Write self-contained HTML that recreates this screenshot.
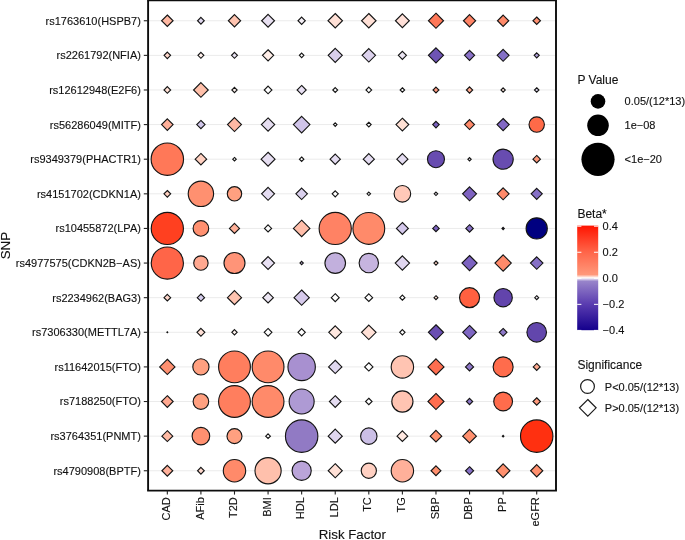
<!DOCTYPE html><html><head><meta charset="utf-8"><style>html,body{margin:0;padding:0;background:#fff;}svg{display:block;will-change:transform;}text{font-family:"Liberation Sans",sans-serif;stroke:#111;stroke-width:0.12px;}</style></head><body>
<svg width="685" height="540" viewBox="0 0 685 540">
<rect x="0" y="0" width="685" height="540" fill="#fff"/>
<line x1="148.1" y1="20.75" x2="556" y2="20.75" stroke="#ebebeb" stroke-width="1"/>
<line x1="148.1" y1="55.37" x2="556" y2="55.37" stroke="#ebebeb" stroke-width="1"/>
<line x1="148.1" y1="89.98" x2="556" y2="89.98" stroke="#ebebeb" stroke-width="1"/>
<line x1="148.1" y1="124.59" x2="556" y2="124.59" stroke="#ebebeb" stroke-width="1"/>
<line x1="148.1" y1="159.21" x2="556" y2="159.21" stroke="#ebebeb" stroke-width="1"/>
<line x1="148.1" y1="193.83" x2="556" y2="193.83" stroke="#ebebeb" stroke-width="1"/>
<line x1="148.1" y1="228.44" x2="556" y2="228.44" stroke="#ebebeb" stroke-width="1"/>
<line x1="148.1" y1="263.06" x2="556" y2="263.06" stroke="#ebebeb" stroke-width="1"/>
<line x1="148.1" y1="297.67" x2="556" y2="297.67" stroke="#ebebeb" stroke-width="1"/>
<line x1="148.1" y1="332.29" x2="556" y2="332.29" stroke="#ebebeb" stroke-width="1"/>
<line x1="148.1" y1="366.9" x2="556" y2="366.9" stroke="#ebebeb" stroke-width="1"/>
<line x1="148.1" y1="401.52" x2="556" y2="401.52" stroke="#ebebeb" stroke-width="1"/>
<line x1="148.1" y1="436.13" x2="556" y2="436.13" stroke="#ebebeb" stroke-width="1"/>
<line x1="148.1" y1="470.75" x2="556" y2="470.75" stroke="#ebebeb" stroke-width="1"/>
<path d="M167.33 15L173.08 20.75L167.33 26.5L161.58 20.75Z" fill="#FFB8A2" stroke="#141414" stroke-width="1.12"/>
<path d="M200.91 17.4L204.26 20.75L200.91 24.1L197.56 20.75Z" fill="#E0D8EF" stroke="#141414" stroke-width="1.12"/>
<path d="M234.49 14.6L240.64 20.75L234.49 26.9L228.34 20.75Z" fill="#FFC4B0" stroke="#141414" stroke-width="1.12"/>
<path d="M268.07 14.3L274.52 20.75L268.07 27.2L261.62 20.75Z" fill="#E8E0F1" stroke="#141414" stroke-width="1.12"/>
<path d="M301.65 17.1L305.3 20.75L301.65 24.4L298 20.75Z" fill="#F5F0F7" stroke="#141414" stroke-width="1.12"/>
<path d="M335.23 13.5L342.48 20.75L335.23 28L327.98 20.75Z" fill="#FFE0D6" stroke="#141414" stroke-width="1.12"/>
<path d="M368.81 13.5L376.06 20.75L368.81 28L361.56 20.75Z" fill="#FFE0D6" stroke="#141414" stroke-width="1.12"/>
<path d="M402.39 13.8L409.34 20.75L402.39 27.7L395.44 20.75Z" fill="#FFE0D8" stroke="#141414" stroke-width="1.12"/>
<path d="M435.97 13.2L443.52 20.75L435.97 28.3L428.42 20.75Z" fill="#FF7858" stroke="#141414" stroke-width="1.12"/>
<path d="M469.55 14.65L475.65 20.75L469.55 26.85L463.45 20.75Z" fill="#FF8466" stroke="#141414" stroke-width="1.12"/>
<path d="M503.13 15.1L508.78 20.75L503.13 26.4L497.48 20.75Z" fill="#FF8A6A" stroke="#141414" stroke-width="1.12"/>
<path d="M536.71 17L540.46 20.75L536.71 24.5L532.96 20.75Z" fill="#FF9070" stroke="#141414" stroke-width="1.12"/>
<path d="M167.33 52.12L170.58 55.37L167.33 58.62L164.08 55.37Z" fill="#FFD8CC" stroke="#141414" stroke-width="1.12"/>
<path d="M200.91 52.41L203.86 55.37L200.91 58.32L197.96 55.37Z" fill="#FFF0EC" stroke="#141414" stroke-width="1.12"/>
<path d="M234.49 52.41L237.44 55.37L234.49 58.32L231.54 55.37Z" fill="#E8E2F1" stroke="#141414" stroke-width="1.12"/>
<path d="M268.07 49.77L273.67 55.37L268.07 60.97L262.47 55.37Z" fill="#FFEEE8" stroke="#141414" stroke-width="1.12"/>
<path d="M301.65 53.12L303.9 55.37L301.65 57.62L299.4 55.37Z" fill="#FFFFFF" stroke="#141414" stroke-width="1.12"/>
<path d="M335.23 48.32L342.28 55.37L335.23 62.41L328.18 55.37Z" fill="#D8CEEB" stroke="#141414" stroke-width="1.12"/>
<path d="M368.81 48.66L375.51 55.37L368.81 62.07L362.11 55.37Z" fill="#DCD2ED" stroke="#141414" stroke-width="1.12"/>
<path d="M402.39 51.32L406.44 55.37L402.39 59.41L398.34 55.37Z" fill="#ECE6F3" stroke="#141414" stroke-width="1.12"/>
<path d="M435.97 47.82L443.52 55.37L435.97 62.91L428.42 55.37Z" fill="#6E54B4" stroke="#141414" stroke-width="1.12"/>
<path d="M469.55 50.32L474.6 55.37L469.55 60.41L464.5 55.37Z" fill="#8A72C8" stroke="#141414" stroke-width="1.12"/>
<path d="M503.13 49.41L509.08 55.37L503.13 61.32L497.18 55.37Z" fill="#8470C6" stroke="#141414" stroke-width="1.12"/>
<path d="M536.71 52.82L539.26 55.37L536.71 57.91L534.16 55.37Z" fill="#B0A0D8" stroke="#141414" stroke-width="1.12"/>
<path d="M167.33 86.63L170.68 89.98L167.33 93.33L163.98 89.98Z" fill="#FFE0D4" stroke="#141414" stroke-width="1.12"/>
<path d="M200.91 82.63L208.26 89.98L200.91 97.33L193.56 89.98Z" fill="#FFC0AA" stroke="#141414" stroke-width="1.12"/>
<path d="M234.49 87.33L237.14 89.98L234.49 92.63L231.84 89.98Z" fill="#FFF4F0" stroke="#141414" stroke-width="1.12"/>
<path d="M268.07 86.13L271.92 89.98L268.07 93.83L264.22 89.98Z" fill="#FFFFFF" stroke="#141414" stroke-width="1.12"/>
<path d="M301.65 85.43L306.2 89.98L301.65 94.53L297.1 89.98Z" fill="#E8E0F3" stroke="#141414" stroke-width="1.12"/>
<path d="M335.23 87.53L337.68 89.98L335.23 92.43L332.78 89.98Z" fill="#FFFFFF" stroke="#141414" stroke-width="1.12"/>
<path d="M368.81 87.13L371.66 89.98L368.81 92.83L365.96 89.98Z" fill="#FFFFFF" stroke="#141414" stroke-width="1.12"/>
<path d="M402.39 87.73L404.64 89.98L402.39 92.23L400.14 89.98Z" fill="#FFFFFF" stroke="#141414" stroke-width="1.12"/>
<path d="M435.97 87.03L438.92 89.98L435.97 92.93L433.02 89.98Z" fill="#FF9A80" stroke="#141414" stroke-width="1.12"/>
<path d="M469.55 86.83L472.7 89.98L469.55 93.13L466.4 89.98Z" fill="#FFAA90" stroke="#141414" stroke-width="1.12"/>
<path d="M503.13 87.83L505.28 89.98L503.13 92.13L500.98 89.98Z" fill="#FFE8E0" stroke="#141414" stroke-width="1.12"/>
<path d="M536.71 87.73L538.96 89.98L536.71 92.23L534.46 89.98Z" fill="#E0D8ED" stroke="#141414" stroke-width="1.12"/>
<path d="M167.33 118.84L173.08 124.59L167.33 130.34L161.58 124.59Z" fill="#FFB09A" stroke="#141414" stroke-width="1.12"/>
<path d="M200.91 120.44L205.06 124.59L200.91 128.75L196.76 124.59Z" fill="#D0C6E9" stroke="#141414" stroke-width="1.12"/>
<path d="M234.49 117.64L241.44 124.59L234.49 131.54L227.54 124.59Z" fill="#FFB8A4" stroke="#141414" stroke-width="1.12"/>
<path d="M268.07 117.94L274.72 124.59L268.07 131.25L261.42 124.59Z" fill="#E6DEF1" stroke="#141414" stroke-width="1.12"/>
<path d="M301.65 116.34L309.9 124.59L301.65 132.84L293.4 124.59Z" fill="#D0C4E9" stroke="#141414" stroke-width="1.12"/>
<path d="M335.23 122.84L336.98 124.59L335.23 126.34L333.48 124.59Z" fill="#FFFFFF" stroke="#141414" stroke-width="1.12"/>
<path d="M368.81 122.25L371.16 124.59L368.81 126.94L366.46 124.59Z" fill="#FFFFFF" stroke="#141414" stroke-width="1.12"/>
<path d="M402.39 118.19L408.79 124.59L402.39 131L395.99 124.59Z" fill="#FFE0D4" stroke="#141414" stroke-width="1.12"/>
<path d="M435.97 121.34L439.22 124.59L435.97 127.84L432.72 124.59Z" fill="#7A62BE" stroke="#141414" stroke-width="1.12"/>
<path d="M469.55 119.64L474.5 124.59L469.55 129.54L464.6 124.59Z" fill="#FF8A6A" stroke="#141414" stroke-width="1.12"/>
<path d="M503.13 118.5L509.23 124.59L503.13 130.69L497.03 124.59Z" fill="#8268C4" stroke="#141414" stroke-width="1.12"/>
<circle cx="536.71" cy="124.59" r="7.7" fill="#FF6A48" stroke="#141414" stroke-width="1.12"/>
<circle cx="167.33" cy="159.21" r="16.2" fill="#FF7858" stroke="#141414" stroke-width="1.12"/>
<path d="M200.91 153.46L206.66 159.21L200.91 164.96L195.16 159.21Z" fill="#FFD0C0" stroke="#141414" stroke-width="1.12"/>
<path d="M234.49 157.46L236.24 159.21L234.49 160.96L232.74 159.21Z" fill="#FFFFFF" stroke="#141414" stroke-width="1.12"/>
<path d="M268.07 152.26L275.02 159.21L268.07 166.16L261.12 159.21Z" fill="#E6DEF1" stroke="#141414" stroke-width="1.12"/>
<path d="M301.65 157.01L303.85 159.21L301.65 161.41L299.45 159.21Z" fill="#FFFFFF" stroke="#141414" stroke-width="1.12"/>
<path d="M335.23 154.06L340.38 159.21L335.23 164.36L330.08 159.21Z" fill="#E4DCF1" stroke="#141414" stroke-width="1.12"/>
<path d="M368.81 153.66L374.36 159.21L368.81 164.76L363.26 159.21Z" fill="#E4DCF1" stroke="#141414" stroke-width="1.12"/>
<path d="M402.39 153.66L407.94 159.21L402.39 164.76L396.84 159.21Z" fill="#E4DCF1" stroke="#141414" stroke-width="1.12"/>
<circle cx="435.97" cy="159.21" r="8.5" fill="#684CB0" stroke="#141414" stroke-width="1.12"/>
<path d="M469.55 157.56L471.2 159.21L469.55 160.86L467.9 159.21Z" fill="#F4EEF7" stroke="#141414" stroke-width="1.12"/>
<circle cx="503.13" cy="159.21" r="10.1" fill="#684CB0" stroke="#141414" stroke-width="1.12"/>
<path d="M536.71 155.46L540.46 159.21L536.71 162.96L532.96 159.21Z" fill="#FF9A7C" stroke="#141414" stroke-width="1.12"/>
<path d="M167.33 190.48L170.68 193.83L167.33 197.18L163.98 193.83Z" fill="#FFD0C0" stroke="#141414" stroke-width="1.12"/>
<circle cx="200.91" cy="193.83" r="12.7" fill="#FF9070" stroke="#141414" stroke-width="1.12"/>
<circle cx="234.49" cy="193.83" r="7.2" fill="#FFA080" stroke="#141414" stroke-width="1.12"/>
<path d="M268.07 187.38L274.52 193.83L268.07 200.28L261.62 193.83Z" fill="#E4DCF1" stroke="#141414" stroke-width="1.12"/>
<path d="M301.65 188.08L307.4 193.83L301.65 199.58L295.9 193.83Z" fill="#DAD0ED" stroke="#141414" stroke-width="1.12"/>
<path d="M335.23 190.78L338.28 193.83L335.23 196.88L332.18 193.83Z" fill="#FFFFFF" stroke="#141414" stroke-width="1.12"/>
<path d="M368.81 192.08L370.56 193.83L368.81 195.58L367.06 193.83Z" fill="#FFFFFF" stroke="#141414" stroke-width="1.12"/>
<circle cx="402.39" cy="193.83" r="8.3" fill="#FFC8B8" stroke="#141414" stroke-width="1.12"/>
<path d="M435.97 192.08L437.72 193.83L435.97 195.58L434.22 193.83Z" fill="#F0EAF5" stroke="#141414" stroke-width="1.12"/>
<path d="M469.55 186.88L476.5 193.83L469.55 200.78L462.6 193.83Z" fill="#7E62C0" stroke="#141414" stroke-width="1.12"/>
<path d="M503.13 187.88L509.08 193.83L503.13 199.78L497.18 193.83Z" fill="#FF8A6A" stroke="#141414" stroke-width="1.12"/>
<path d="M536.71 188.28L542.26 193.83L536.71 199.38L531.16 193.83Z" fill="#8670C6" stroke="#141414" stroke-width="1.12"/>
<circle cx="167.33" cy="228.44" r="16.1" fill="#FF4020" stroke="#141414" stroke-width="1.12"/>
<circle cx="200.91" cy="228.44" r="7.8" fill="#FF9070" stroke="#141414" stroke-width="1.12"/>
<path d="M234.49 223.39L239.54 228.44L234.49 233.49L229.44 228.44Z" fill="#FFB098" stroke="#141414" stroke-width="1.12"/>
<path d="M268.07 224.89L271.62 228.44L268.07 231.99L264.52 228.44Z" fill="#FFFFFF" stroke="#141414" stroke-width="1.12"/>
<path d="M301.65 220.19L309.9 228.44L301.65 236.69L293.4 228.44Z" fill="#FFBEAA" stroke="#141414" stroke-width="1.12"/>
<circle cx="335.23" cy="228.44" r="16.1" fill="#FF8264" stroke="#141414" stroke-width="1.12"/>
<circle cx="368.81" cy="228.44" r="15.9" fill="#FF8A6A" stroke="#141414" stroke-width="1.12"/>
<path d="M402.39 222.49L408.34 228.44L402.39 234.39L396.44 228.44Z" fill="#D4C8EB" stroke="#141414" stroke-width="1.12"/>
<path d="M435.97 225.19L439.22 228.44L435.97 231.69L432.72 228.44Z" fill="#7A62BE" stroke="#141414" stroke-width="1.12"/>
<path d="M469.55 224.69L473.3 228.44L469.55 232.19L465.8 228.44Z" fill="#8670C6" stroke="#141414" stroke-width="1.12"/>
<path d="M503.13 227.29L504.28 228.44L503.13 229.59L501.98 228.44Z" fill="#8670C6" stroke="#141414" stroke-width="1.12"/>
<circle cx="536.71" cy="228.44" r="10.6" fill="#000080" stroke="#141414" stroke-width="1.12"/>
<circle cx="167.33" cy="263.06" r="16.1" fill="#FF6548" stroke="#141414" stroke-width="1.12"/>
<circle cx="200.91" cy="263.06" r="7.2" fill="#FFA890" stroke="#141414" stroke-width="1.12"/>
<circle cx="234.49" cy="263.06" r="10.5" fill="#FF9478" stroke="#141414" stroke-width="1.12"/>
<path d="M268.07 256.61L274.52 263.06L268.07 269.5L261.62 263.06Z" fill="#E8E0F3" stroke="#141414" stroke-width="1.12"/>
<path d="M301.65 261.41L303.3 263.06L301.65 264.7L300 263.06Z" fill="#C2B0DD" stroke="#141414" stroke-width="1.12"/>
<circle cx="335.23" cy="263.06" r="10.3" fill="#C2B0DD" stroke="#141414" stroke-width="1.12"/>
<circle cx="368.81" cy="263.06" r="9.7" fill="#C6B4DF" stroke="#141414" stroke-width="1.12"/>
<path d="M402.39 255.91L409.54 263.06L402.39 270.2L395.24 263.06Z" fill="#E0D6EF" stroke="#141414" stroke-width="1.12"/>
<path d="M435.97 261L438.02 263.06L435.97 265.11L433.92 263.06Z" fill="#FFD0C0" stroke="#141414" stroke-width="1.12"/>
<path d="M469.55 255.5L477.1 263.06L469.55 270.61L462 263.06Z" fill="#7C62C0" stroke="#141414" stroke-width="1.12"/>
<path d="M503.13 254.91L511.28 263.06L503.13 271.2L494.98 263.06Z" fill="#FF8A6A" stroke="#141414" stroke-width="1.12"/>
<path d="M536.71 256.81L542.96 263.06L536.71 269.31L530.46 263.06Z" fill="#8670C6" stroke="#141414" stroke-width="1.12"/>
<path d="M167.33 294.32L170.68 297.67L167.33 301.02L163.98 297.67Z" fill="#FFD8CC" stroke="#141414" stroke-width="1.12"/>
<path d="M200.91 294.02L204.56 297.67L200.91 301.32L197.26 297.67Z" fill="#D4CCEC" stroke="#141414" stroke-width="1.12"/>
<path d="M234.49 290.62L241.54 297.67L234.49 304.72L227.44 297.67Z" fill="#FFC4B0" stroke="#141414" stroke-width="1.12"/>
<path d="M268.07 292.37L273.37 297.67L268.07 302.97L262.77 297.67Z" fill="#ECE6F3" stroke="#141414" stroke-width="1.12"/>
<path d="M301.65 290.02L309.3 297.67L301.65 305.32L294 297.67Z" fill="#D6CAEB" stroke="#141414" stroke-width="1.12"/>
<path d="M335.23 293.72L339.18 297.67L335.23 301.62L331.28 297.67Z" fill="#FFFFFF" stroke="#141414" stroke-width="1.12"/>
<path d="M368.81 293.82L372.66 297.67L368.81 301.52L364.96 297.67Z" fill="#FFFFFF" stroke="#141414" stroke-width="1.12"/>
<path d="M402.39 295.12L404.94 297.67L402.39 300.22L399.84 297.67Z" fill="#FFFFFF" stroke="#141414" stroke-width="1.12"/>
<path d="M435.97 295.72L437.92 297.67L435.97 299.62L434.02 297.67Z" fill="#FFE0D6" stroke="#141414" stroke-width="1.12"/>
<circle cx="469.55" cy="297.67" r="10" fill="#FF6040" stroke="#141414" stroke-width="1.12"/>
<circle cx="503.13" cy="297.67" r="9.2" fill="#6244AC" stroke="#141414" stroke-width="1.12"/>
<path d="M536.71 295.72L538.66 297.67L536.71 299.62L534.76 297.67Z" fill="#F0EAF5" stroke="#141414" stroke-width="1.12"/>
<path d="M167.33 331.84L167.78 332.29L167.33 332.74L166.88 332.29Z" fill="#000000" stroke="#141414" stroke-width="1.12"/>
<path d="M200.91 328.34L204.86 332.29L200.91 336.24L196.96 332.29Z" fill="#FFE0D6" stroke="#141414" stroke-width="1.12"/>
<path d="M234.49 329.64L237.14 332.29L234.49 334.94L231.84 332.29Z" fill="#FFF4F0" stroke="#141414" stroke-width="1.12"/>
<path d="M268.07 328.44L271.92 332.29L268.07 336.14L264.22 332.29Z" fill="#FFFFFF" stroke="#141414" stroke-width="1.12"/>
<path d="M301.65 328.64L305.3 332.29L301.65 335.94L298 332.29Z" fill="#FFFFFF" stroke="#141414" stroke-width="1.12"/>
<path d="M335.23 325.84L341.68 332.29L335.23 338.74L328.78 332.29Z" fill="#FFE8E0" stroke="#141414" stroke-width="1.12"/>
<path d="M368.81 325.04L376.06 332.29L368.81 339.54L361.56 332.29Z" fill="#FFE0D6" stroke="#141414" stroke-width="1.12"/>
<path d="M402.39 329.64L405.04 332.29L402.39 334.94L399.74 332.29Z" fill="#FFFFFF" stroke="#141414" stroke-width="1.12"/>
<path d="M435.97 324.74L443.52 332.29L435.97 339.84L428.42 332.29Z" fill="#6A4EB2" stroke="#141414" stroke-width="1.12"/>
<path d="M469.55 325.44L476.4 332.29L469.55 339.14L462.7 332.29Z" fill="#7E66C2" stroke="#141414" stroke-width="1.12"/>
<path d="M503.13 328.44L506.98 332.29L503.13 336.14L499.28 332.29Z" fill="#8E78C8" stroke="#141414" stroke-width="1.12"/>
<circle cx="536.71" cy="332.29" r="9.8" fill="#6246AC" stroke="#141414" stroke-width="1.12"/>
<path d="M167.33 359.25L174.98 366.9L167.33 374.55L159.68 366.9Z" fill="#FF9070" stroke="#141414" stroke-width="1.12"/>
<circle cx="200.91" cy="366.9" r="8.1" fill="#FFA080" stroke="#141414" stroke-width="1.12"/>
<circle cx="234.49" cy="366.9" r="15.9" fill="#FF7E5E" stroke="#141414" stroke-width="1.12"/>
<circle cx="268.07" cy="366.9" r="15.9" fill="#FF8A6A" stroke="#141414" stroke-width="1.12"/>
<circle cx="301.65" cy="366.9" r="13.7" fill="#A890D0" stroke="#141414" stroke-width="1.12"/>
<path d="M335.23 360.25L341.88 366.9L335.23 373.55L328.58 366.9Z" fill="#E0D8EF" stroke="#141414" stroke-width="1.12"/>
<path d="M368.81 362.75L372.96 366.9L368.81 371.05L364.66 366.9Z" fill="#FFFFFF" stroke="#141414" stroke-width="1.12"/>
<circle cx="402.39" cy="366.9" r="11.2" fill="#FFC4B2" stroke="#141414" stroke-width="1.12"/>
<path d="M435.97 358.85L444.02 366.9L435.97 374.95L427.92 366.9Z" fill="#FF6E50" stroke="#141414" stroke-width="1.12"/>
<path d="M469.55 362.85L473.6 366.9L469.55 370.95L465.5 366.9Z" fill="#8E78C8" stroke="#141414" stroke-width="1.12"/>
<circle cx="503.13" cy="366.9" r="10" fill="#FF6C4C" stroke="#141414" stroke-width="1.12"/>
<path d="M536.71 363.45L540.16 366.9L536.71 370.35L533.26 366.9Z" fill="#FFAA90" stroke="#141414" stroke-width="1.12"/>
<path d="M167.33 395.67L173.18 401.52L167.33 407.37L161.48 401.52Z" fill="#FFA890" stroke="#141414" stroke-width="1.12"/>
<circle cx="200.91" cy="401.52" r="7.8" fill="#FFA080" stroke="#141414" stroke-width="1.12"/>
<circle cx="234.49" cy="401.52" r="15.9" fill="#FF7E5E" stroke="#141414" stroke-width="1.12"/>
<circle cx="268.07" cy="401.52" r="15.9" fill="#FF8A6A" stroke="#141414" stroke-width="1.12"/>
<circle cx="301.65" cy="401.52" r="12.5" fill="#AE9AD4" stroke="#141414" stroke-width="1.12"/>
<path d="M335.23 395.67L341.08 401.52L335.23 407.37L329.38 401.52Z" fill="#E4DCF1" stroke="#141414" stroke-width="1.12"/>
<path d="M368.81 398.27L372.06 401.52L368.81 404.77L365.56 401.52Z" fill="#FFFFFF" stroke="#141414" stroke-width="1.12"/>
<circle cx="402.39" cy="401.52" r="10.6" fill="#FFC4B2" stroke="#141414" stroke-width="1.12"/>
<path d="M435.97 393.47L444.02 401.52L435.97 409.57L427.92 401.52Z" fill="#FF6E50" stroke="#141414" stroke-width="1.12"/>
<path d="M469.55 398.37L472.7 401.52L469.55 404.67L466.4 401.52Z" fill="#8E78C8" stroke="#141414" stroke-width="1.12"/>
<circle cx="503.13" cy="401.52" r="9.4" fill="#FF6C4C" stroke="#141414" stroke-width="1.12"/>
<path d="M536.71 397.77L540.46 401.52L536.71 405.27L532.96 401.52Z" fill="#FF9A7C" stroke="#141414" stroke-width="1.12"/>
<path d="M167.33 430.68L172.78 436.13L167.33 441.58L161.88 436.13Z" fill="#FFBAA4" stroke="#141414" stroke-width="1.12"/>
<circle cx="200.91" cy="436.13" r="8.8" fill="#FF9070" stroke="#141414" stroke-width="1.12"/>
<circle cx="234.49" cy="436.13" r="7.5" fill="#FFA080" stroke="#141414" stroke-width="1.12"/>
<path d="M268.07 433.78L270.42 436.13L268.07 438.48L265.72 436.13Z" fill="#FFFFFF" stroke="#141414" stroke-width="1.12"/>
<circle cx="301.65" cy="436.13" r="16.2" fill="#917AC4" stroke="#141414" stroke-width="1.12"/>
<path d="M335.23 429.08L342.28 436.13L335.23 443.18L328.18 436.13Z" fill="#E0D6EF" stroke="#141414" stroke-width="1.12"/>
<circle cx="368.81" cy="436.13" r="8.2" fill="#CBBFE6" stroke="#141414" stroke-width="1.12"/>
<path d="M402.39 430.78L407.74 436.13L402.39 441.48L397.04 436.13Z" fill="#FFE8E0" stroke="#141414" stroke-width="1.12"/>
<path d="M435.97 430.33L441.77 436.13L435.97 441.93L430.17 436.13Z" fill="#FF906E" stroke="#141414" stroke-width="1.12"/>
<path d="M469.55 429.28L476.4 436.13L469.55 442.98L462.7 436.13Z" fill="#FF906E" stroke="#141414" stroke-width="1.12"/>
<path d="M503.13 435.38L503.88 436.13L503.13 436.88L502.38 436.13Z" fill="#000000" stroke="#141414" stroke-width="1.12"/>
<circle cx="536.71" cy="436.13" r="16.2" fill="#FF3010" stroke="#141414" stroke-width="1.12"/>
<path d="M167.33 465.3L172.78 470.75L167.33 476.19L161.88 470.75Z" fill="#FFB09A" stroke="#141414" stroke-width="1.12"/>
<path d="M200.91 467.39L204.26 470.75L200.91 474.1L197.56 470.75Z" fill="#FFD8CC" stroke="#141414" stroke-width="1.12"/>
<circle cx="234.49" cy="470.75" r="11.2" fill="#FF8A6A" stroke="#141414" stroke-width="1.12"/>
<circle cx="268.07" cy="470.75" r="13.1" fill="#FFC0AC" stroke="#141414" stroke-width="1.12"/>
<circle cx="301.65" cy="470.75" r="9.6" fill="#BAA4D9" stroke="#141414" stroke-width="1.12"/>
<path d="M335.23 463.69L342.28 470.75L335.23 477.8L328.18 470.75Z" fill="#FFE0D6" stroke="#141414" stroke-width="1.12"/>
<circle cx="368.81" cy="470.75" r="7.6" fill="#FFD0C2" stroke="#141414" stroke-width="1.12"/>
<circle cx="402.39" cy="470.75" r="11.2" fill="#FFB09A" stroke="#141414" stroke-width="1.12"/>
<path d="M435.97 465.8L440.92 470.75L435.97 475.69L431.02 470.75Z" fill="#FF906E" stroke="#141414" stroke-width="1.12"/>
<path d="M469.55 466.69L473.6 470.75L469.55 474.8L465.5 470.75Z" fill="#8670C6" stroke="#141414" stroke-width="1.12"/>
<path d="M503.13 463.89L509.98 470.75L503.13 477.6L496.28 470.75Z" fill="#FF906E" stroke="#141414" stroke-width="1.12"/>
<path d="M536.71 464.64L542.81 470.75L536.71 476.85L530.61 470.75Z" fill="#FF906E" stroke="#141414" stroke-width="1.12"/>
<path d="M148.1 0.5V490.6M556 0.5V490.6" stroke="#0d0d0d" stroke-width="1.9" fill="none"/>
<path d="M147.15 0.5H556.95M147.15 490.6H556.95" stroke="#0d0d0d" stroke-width="1.6" fill="none"/>
<line x1="143.8" y1="20.75" x2="148.1" y2="20.75" stroke="#222" stroke-width="1.1"/>
<text x="140.9" y="24.65" font-size="11" text-anchor="end" fill="#111">rs1763610(HSPB7)</text>
<line x1="143.8" y1="55.37" x2="148.1" y2="55.37" stroke="#222" stroke-width="1.1"/>
<text x="140.9" y="59.27" font-size="11" text-anchor="end" fill="#111">rs2261792(NFIA)</text>
<line x1="143.8" y1="89.98" x2="148.1" y2="89.98" stroke="#222" stroke-width="1.1"/>
<text x="140.9" y="93.88" font-size="11" text-anchor="end" fill="#111">rs12612948(E2F6)</text>
<line x1="143.8" y1="124.59" x2="148.1" y2="124.59" stroke="#222" stroke-width="1.1"/>
<text x="140.9" y="128.5" font-size="11" text-anchor="end" fill="#111">rs56286049(MITF)</text>
<line x1="143.8" y1="159.21" x2="148.1" y2="159.21" stroke="#222" stroke-width="1.1"/>
<text x="140.9" y="163.11" font-size="11" text-anchor="end" fill="#111">rs9349379(PHACTR1)</text>
<line x1="143.8" y1="193.83" x2="148.1" y2="193.83" stroke="#222" stroke-width="1.1"/>
<text x="140.9" y="197.73" font-size="11" text-anchor="end" fill="#111">rs4151702(CDKN1A)</text>
<line x1="143.8" y1="228.44" x2="148.1" y2="228.44" stroke="#222" stroke-width="1.1"/>
<text x="140.9" y="232.34" font-size="11" text-anchor="end" fill="#111">rs10455872(LPA)</text>
<line x1="143.8" y1="263.06" x2="148.1" y2="263.06" stroke="#222" stroke-width="1.1"/>
<text x="140.9" y="266.95" font-size="11" text-anchor="end" fill="#111">rs4977575(CDKN2B−AS)</text>
<line x1="143.8" y1="297.67" x2="148.1" y2="297.67" stroke="#222" stroke-width="1.1"/>
<text x="140.9" y="301.57" font-size="11" text-anchor="end" fill="#111">rs2234962(BAG3)</text>
<line x1="143.8" y1="332.29" x2="148.1" y2="332.29" stroke="#222" stroke-width="1.1"/>
<text x="140.9" y="336.19" font-size="11" text-anchor="end" fill="#111">rs7306330(METTL7A)</text>
<line x1="143.8" y1="366.9" x2="148.1" y2="366.9" stroke="#222" stroke-width="1.1"/>
<text x="140.9" y="370.8" font-size="11" text-anchor="end" fill="#111">rs11642015(FTO)</text>
<line x1="143.8" y1="401.52" x2="148.1" y2="401.52" stroke="#222" stroke-width="1.1"/>
<text x="140.9" y="405.42" font-size="11" text-anchor="end" fill="#111">rs7188250(FTO)</text>
<line x1="143.8" y1="436.13" x2="148.1" y2="436.13" stroke="#222" stroke-width="1.1"/>
<text x="140.9" y="440.03" font-size="11" text-anchor="end" fill="#111">rs3764351(PNMT)</text>
<line x1="143.8" y1="470.75" x2="148.1" y2="470.75" stroke="#222" stroke-width="1.1"/>
<text x="140.9" y="474.64" font-size="11" text-anchor="end" fill="#111">rs4790908(BPTF)</text>
<line x1="167.33" y1="490.6" x2="167.33" y2="494.6" stroke="#222" stroke-width="1.1"/>
<text transform="translate(169.93,497.2) rotate(-90)" font-size="11" text-anchor="end" fill="#111">CAD</text>
<line x1="200.91" y1="490.6" x2="200.91" y2="494.6" stroke="#222" stroke-width="1.1"/>
<text transform="translate(203.51,497.2) rotate(-90)" font-size="11" text-anchor="end" fill="#111">AFib</text>
<line x1="234.49" y1="490.6" x2="234.49" y2="494.6" stroke="#222" stroke-width="1.1"/>
<text transform="translate(237.09,497.2) rotate(-90)" font-size="11" text-anchor="end" fill="#111">T2D</text>
<line x1="268.07" y1="490.6" x2="268.07" y2="494.6" stroke="#222" stroke-width="1.1"/>
<text transform="translate(270.67,497.2) rotate(-90)" font-size="11" text-anchor="end" fill="#111">BMI</text>
<line x1="301.65" y1="490.6" x2="301.65" y2="494.6" stroke="#222" stroke-width="1.1"/>
<text transform="translate(304.25,497.2) rotate(-90)" font-size="11" text-anchor="end" fill="#111">HDL</text>
<line x1="335.23" y1="490.6" x2="335.23" y2="494.6" stroke="#222" stroke-width="1.1"/>
<text transform="translate(337.83,497.2) rotate(-90)" font-size="11" text-anchor="end" fill="#111">LDL</text>
<line x1="368.81" y1="490.6" x2="368.81" y2="494.6" stroke="#222" stroke-width="1.1"/>
<text transform="translate(371.41,497.2) rotate(-90)" font-size="11" text-anchor="end" fill="#111">TC</text>
<line x1="402.39" y1="490.6" x2="402.39" y2="494.6" stroke="#222" stroke-width="1.1"/>
<text transform="translate(404.99,497.2) rotate(-90)" font-size="11" text-anchor="end" fill="#111">TG</text>
<line x1="435.97" y1="490.6" x2="435.97" y2="494.6" stroke="#222" stroke-width="1.1"/>
<text transform="translate(438.57,497.2) rotate(-90)" font-size="11" text-anchor="end" fill="#111">SBP</text>
<line x1="469.55" y1="490.6" x2="469.55" y2="494.6" stroke="#222" stroke-width="1.1"/>
<text transform="translate(472.15,497.2) rotate(-90)" font-size="11" text-anchor="end" fill="#111">DBP</text>
<line x1="503.13" y1="490.6" x2="503.13" y2="494.6" stroke="#222" stroke-width="1.1"/>
<text transform="translate(505.73,497.2) rotate(-90)" font-size="11" text-anchor="end" fill="#111">PP</text>
<line x1="536.71" y1="490.6" x2="536.71" y2="494.6" stroke="#222" stroke-width="1.1"/>
<text transform="translate(539.31,497.2) rotate(-90)" font-size="11" text-anchor="end" fill="#111">eGFR</text>
<text transform="translate(10.4,245.6) rotate(-90)" font-size="13.4" text-anchor="middle" fill="#111">SNP</text>
<text x="352.3" y="539.3" font-size="13.3" text-anchor="middle" fill="#111">Risk Factor</text>
<text x="577.4" y="84.1" font-size="12" fill="#111">P Value</text>
<circle cx="598" cy="101.4" r="7.3" fill="#000"/>
<text x="624.6" y="105.3" font-size="11" fill="#111">0.05/(12*13)</text>
<circle cx="598" cy="125.3" r="10.8" fill="#000"/>
<text x="624.6" y="129.2" font-size="11" fill="#111">1e−08</text>
<circle cx="598" cy="159.3" r="16.6" fill="#000"/>
<text x="624.6" y="163.2" font-size="11" fill="#111">&lt;1e−20</text>
<text x="577.4" y="218.2" font-size="12" fill="#111">Beta*</text>
<defs><linearGradient id="cb" x1="0" y1="0" x2="0" y2="1"><stop offset="0.0" stop-color="#FF1400"/><stop offset="0.25" stop-color="#FF6448"/><stop offset="0.468" stop-color="#FF987A"/><stop offset="0.5" stop-color="#FFFFFF"/><stop offset="0.532" stop-color="#9884CA"/><stop offset="0.75" stop-color="#5A3CB0"/><stop offset="1.0" stop-color="#14008C"/></linearGradient></defs>
<rect x="577.2" y="225.6" width="21" height="104.6" fill="url(#cb)"/>
<line x1="577.2" y1="226.2" x2="581.4" y2="226.2" stroke="#fff" stroke-width="1"/>
<line x1="594" y1="226.2" x2="598.2" y2="226.2" stroke="#fff" stroke-width="1"/>
<text x="602.6" y="230.1" font-size="11" fill="#111">0.4</text>
<line x1="577.2" y1="252.25" x2="581.4" y2="252.25" stroke="#fff" stroke-width="1"/>
<line x1="594" y1="252.25" x2="598.2" y2="252.25" stroke="#fff" stroke-width="1"/>
<text x="602.6" y="256.15" font-size="11" fill="#111">0.2</text>
<line x1="577.2" y1="278.3" x2="581.4" y2="278.3" stroke="#fff" stroke-width="1"/>
<line x1="594" y1="278.3" x2="598.2" y2="278.3" stroke="#fff" stroke-width="1"/>
<text x="602.6" y="282.2" font-size="11" fill="#111">0.0</text>
<line x1="577.2" y1="304.35" x2="581.4" y2="304.35" stroke="#fff" stroke-width="1"/>
<line x1="594" y1="304.35" x2="598.2" y2="304.35" stroke="#fff" stroke-width="1"/>
<text x="602.6" y="308.25" font-size="11" fill="#111">−0.2</text>
<line x1="577.2" y1="330.4" x2="581.4" y2="330.4" stroke="#fff" stroke-width="1"/>
<line x1="594" y1="330.4" x2="598.2" y2="330.4" stroke="#fff" stroke-width="1"/>
<text x="602.6" y="334.3" font-size="11" fill="#111">−0.4</text>
<text x="577.4" y="369" font-size="12" fill="#111">Significance</text>
<circle cx="587.5" cy="386.5" r="6.9" fill="#fff" stroke="#1c1c1c" stroke-width="1.2"/>
<path d="M587.8 399.5L596.1 407.8L587.8 416.1L579.5 407.8Z" fill="#fff" stroke="#1c1c1c" stroke-width="1.2"/>
<text x="604.8" y="390.6" font-size="11" fill="#111">P&lt;0.05/(12*13)</text>
<text x="604.8" y="411.7" font-size="11" fill="#111">P&gt;0.05/(12*13)</text>
</svg></body></html>
